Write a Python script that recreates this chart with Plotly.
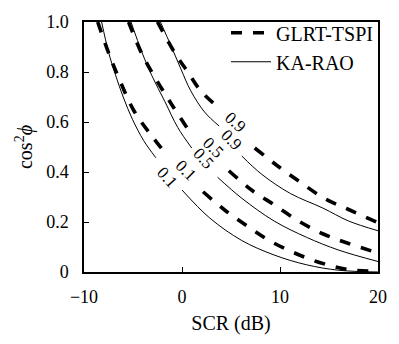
import plotly.graph_objects as go

# ---- data (SCR in dB, cos^2 phi) ----
# KA-RAO (solid) contour lines; None = gap where the contour label sits
ka_01_x = [-8.2, -7.5, -6.8, -6.0, -5.05, -3.9, -2.67, None, 0.0, 2.8, 6.1, 9.4, 12.7, 16.0, 20.0]
ka_01_y = [1.0, 0.88, 0.79, 0.70, 0.61, 0.525, 0.457, None, 0.328, 0.217, 0.126, 0.068, 0.029, 0.007, 0.0]
ka_05_x = [-5.2, -4.06, -3.07, -1.75, -0.43, 0.99, None, 3.63, 6.1, 9.4, 12.7, 16.0, 20.0]
ka_05_y = [1.0, 0.876, 0.785, 0.682, 0.578, 0.496, None, 0.379, 0.295, 0.204, 0.139, 0.0875, 0.042]
ka_09_x = [-2.2, -1.09, -0.1, 0.89, 2.3, 3.79, None, 6.1, 8.1, 11.06, 14.36, 17.0, 20.0]
ka_09_y = [1.0, 0.902, 0.811, 0.725, 0.64, 0.584, None, 0.464, 0.392, 0.314, 0.256, 0.204, 0.165]

# GLRT-TSPI (dashed) contour lines
gl_01_x = [-8.6, -7.36, -6.2, -4.88, -3.24, -1.49, None, 2.15, 4.29, 6.6, 8.9, 11.55, 14.2, 17.0, 20.0]
gl_01_y = [1.0, 0.863, 0.753, 0.643, 0.552, 0.465, None, 0.321, 0.25, 0.185, 0.126, 0.075, 0.036, 0.01, 0.002]
gl_05_x = [-5.45, -4.06, -2.57, -1.02, 0.49, None, 4.78, 7.1, 9.4, 11.9, 14.36, 17.0, 20.0]
gl_05_y = [1.0, 0.87, 0.766, 0.668, 0.578, None, 0.405, 0.328, 0.269, 0.204, 0.153, 0.114, 0.076]
gl_09_x = [-2.5, -0.79, 0.59, 1.88, 3.46, None, 7.42, 9.73, 12.05, 14.5, 17.0, 20.0]
gl_09_y = [1.0, 0.88, 0.80, 0.726, 0.667, None, 0.496, 0.425, 0.36, 0.295, 0.25, 0.197]

# contour labels: text, x, y, angle
lab_text = ["0.1", "0.1", "0.5", "0.5", "0.9", "0.9"]
lab_x = [-1.5, 0.4, 2.2, 3.2, 5.0, 5.5]
lab_y = [0.38, 0.405, 0.455, 0.50, 0.53, 0.60]
lab_ang = [48, 45, 48, 45, 45, 42]

x_ticks = [-10, 0, 10, 20]
y_ticks = [0, 0.2, 0.4, 0.6, 0.8, 1.0]
y_tick_text = ["0", "0.2", "0.4", "0.6", "0.8", "1.0"]

FONT = "Liberation Serif, serif"
dash_style = dict(color="black", width=3.6, dash="11px,11px")
solid_style = dict(color="black", width=1)

fig = go.Figure()
for i, (x, y) in enumerate([(gl_01_x, gl_01_y), (gl_05_x, gl_05_y), (gl_09_x, gl_09_y)]):
    fig.add_trace(go.Scatter(x=x, y=y, mode="lines", line=dash_style, line_shape="spline",
                             name="GLRT-TSPI", legendgroup="g", showlegend=(i == 0)))
for i, (x, y) in enumerate([(ka_01_x, ka_01_y), (ka_05_x, ka_05_y), (ka_09_x, ka_09_y)]):
    fig.add_trace(go.Scatter(x=x, y=y, mode="lines", line=solid_style, line_shape="spline",
                             name="KA-RAO", legendgroup="k", showlegend=(i == 0)))

for t, x, y, a in zip(lab_text, lab_x, lab_y, lab_ang):
    fig.add_annotation(x=x, y=y, text=t, textangle=a, showarrow=False,
                       font=dict(family=FONT, size=17, color="black"))

fig.update_layout(
    width=399, height=344,
    margin=dict(l=84, r=12, t=15, b=72),
    paper_bgcolor="white", plot_bgcolor="white",
    font=dict(family=FONT, size=18, color="black"),
    showlegend=True,
    legend=dict(x=1, y=1.035, xanchor="right", yanchor="top", bgcolor="rgba(0,0,0,0)",
                font=dict(family=FONT, size=20), tracegroupgap=0, itemwidth=40),
)
fig.update_xaxes(range=[-10, 20], tickvals=x_ticks, ticks="inside", ticklen=5, tickcolor="black",
                 showline=True, linecolor="black", linewidth=1.5, mirror=True, showgrid=False,
                 zeroline=False, ticklabelstandoff=8,
                 title=dict(text="SCR (dB)", font=dict(family=FONT, size=20), standoff=10),
                 tickfont=dict(family=FONT, size=18))
fig.update_yaxes(range=[0, 1], tickvals=y_ticks, ticktext=y_tick_text, ticks="inside", ticklen=5,
                 tickcolor="black", showline=True, linecolor="black", linewidth=1.5, mirror=True,
                 showgrid=False, zeroline=False, ticklabelstandoff=10,
                 title=dict(text="cos<sup>2</sup><i>ϕ</i>", font=dict(family=FONT, size=20), standoff=8),
                 tickfont=dict(family=FONT, size=18))

fig.write_html("out.html")
